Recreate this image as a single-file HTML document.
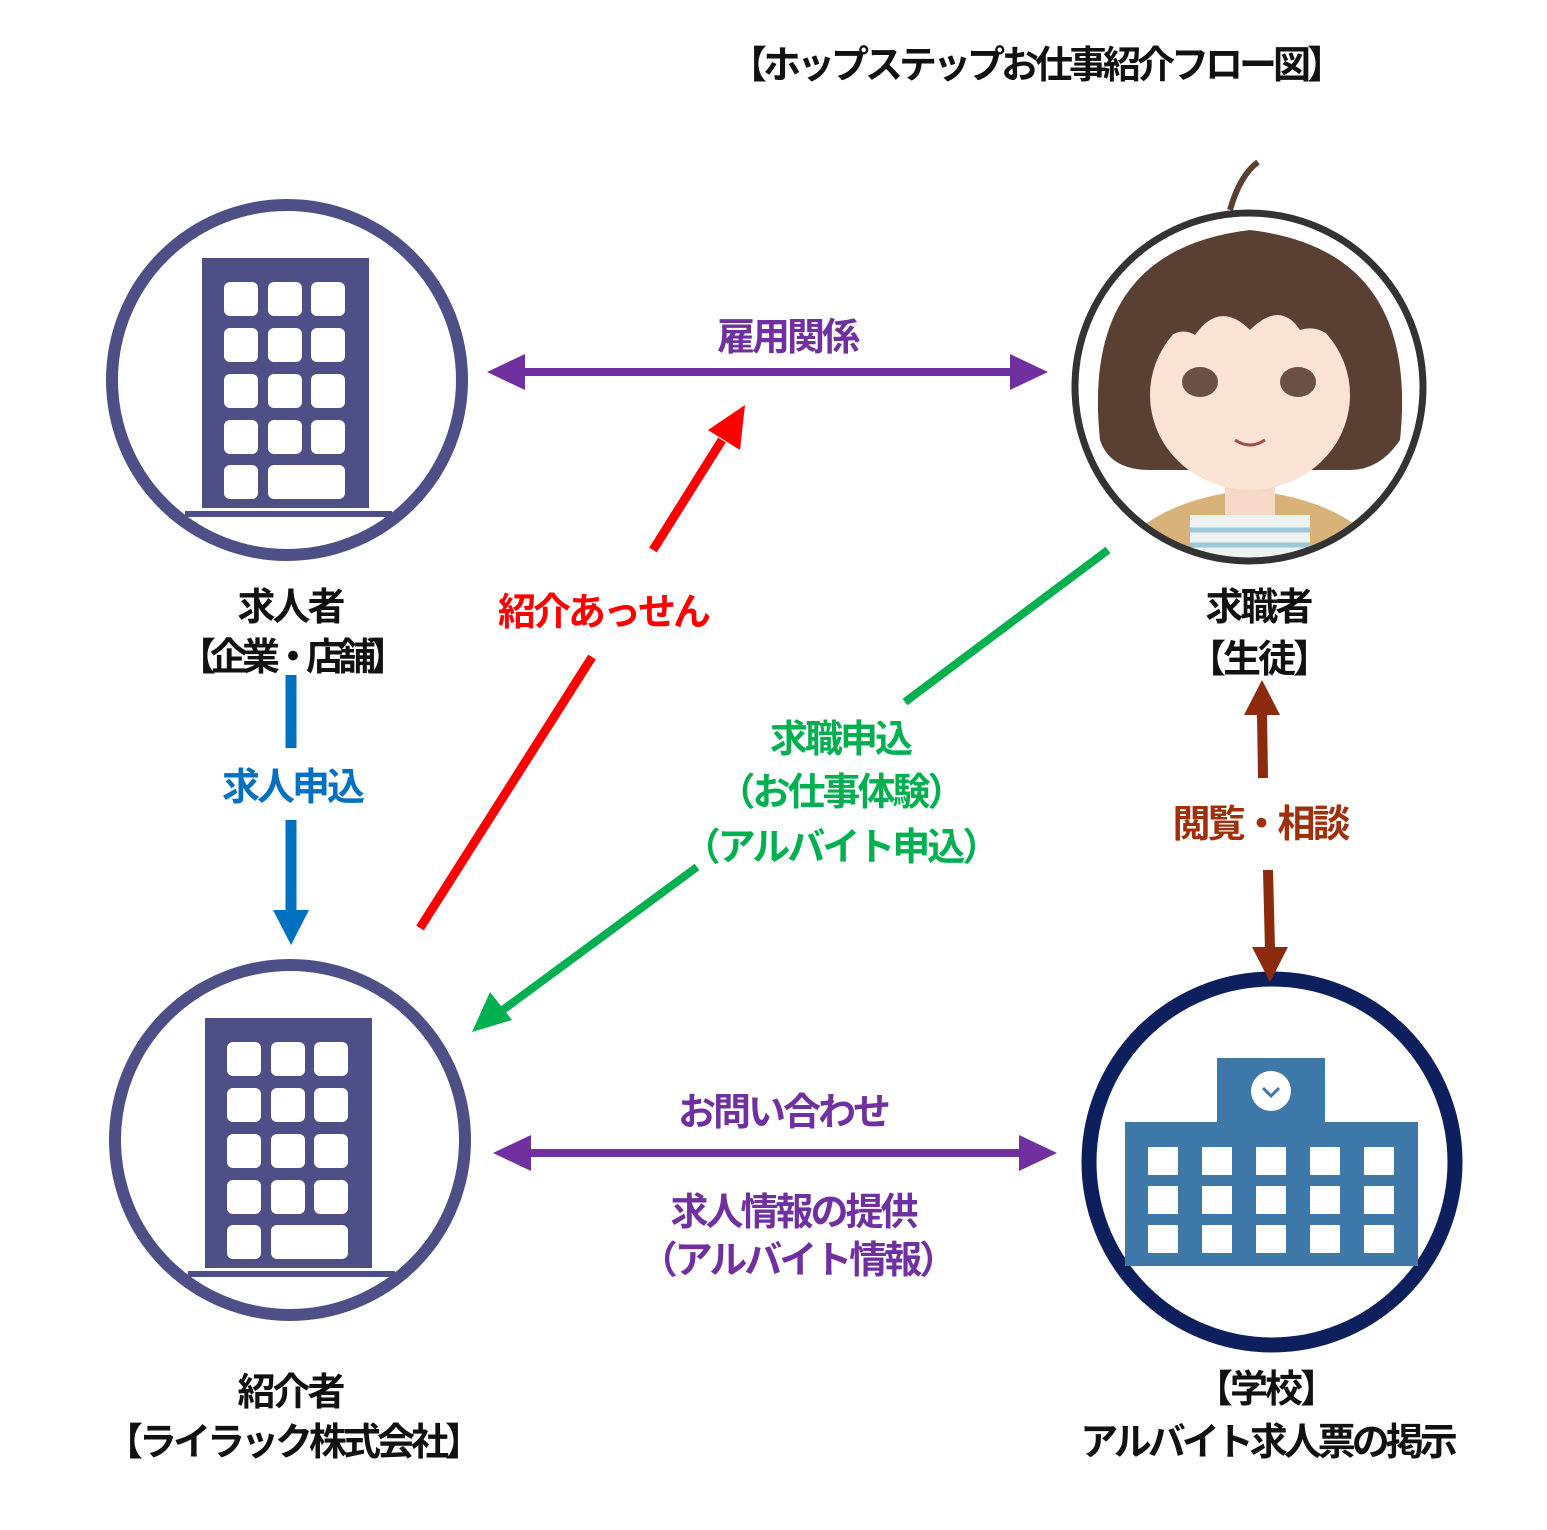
<!DOCTYPE html>
<html><head><meta charset="utf-8"><style>
html,body{margin:0;padding:0;background:#fff}
svg{display:block}
text{font-family:"Liberation Sans","Noto Sans CJK JP",sans-serif;text-anchor:middle;letter-spacing:-3px;font-weight:bold}
</style></head><body>
<svg width="1547" height="1530" viewBox="0 0 1547 1530">
<text x="1035" y="78" font-size="38" fill="#111" style="letter-spacing:-4px">【ホップステップお仕事紹介フロー図】</text>

<g>
<circle cx="287" cy="380" r="175" fill="none" stroke="#4d4f86" stroke-width="12"/>
<rect x="202" y="258" width="167" height="250" fill="#4d4f86"/>
<line x1="185" y1="514" x2="392" y2="514" stroke="#4d4f86" stroke-width="6"/>
</g>
<g fill="#fff">
<rect x="224" y="282" width="34" height="34" rx="6"/><rect x="268" y="282" width="34" height="34" rx="6"/><rect x="311" y="282" width="34" height="34" rx="6"/>
<rect x="224" y="328" width="34" height="34" rx="6"/><rect x="268" y="328" width="34" height="34" rx="6"/><rect x="311" y="328" width="34" height="34" rx="6"/>
<rect x="224" y="374" width="34" height="34" rx="6"/><rect x="268" y="374" width="34" height="34" rx="6"/><rect x="311" y="374" width="34" height="34" rx="6"/>
<rect x="224" y="420" width="34" height="34" rx="6"/><rect x="268" y="420" width="34" height="34" rx="6"/><rect x="311" y="420" width="34" height="34" rx="6"/>
<rect x="224" y="465" width="34" height="34" rx="6"/><rect x="268" y="465" width="77" height="34" rx="6"/>
</g>
<g transform="translate(3,760)">
<circle cx="287" cy="380" r="175" fill="none" stroke="#4d4f86" stroke-width="12"/>
<rect x="202" y="258" width="167" height="250" fill="#4d4f86"/>
<line x1="185" y1="514" x2="392" y2="514" stroke="#4d4f86" stroke-width="6"/>
<g fill="#fff">
<rect x="224" y="282" width="34" height="34" rx="6"/><rect x="268" y="282" width="34" height="34" rx="6"/><rect x="311" y="282" width="34" height="34" rx="6"/>
<rect x="224" y="328" width="34" height="34" rx="6"/><rect x="268" y="328" width="34" height="34" rx="6"/><rect x="311" y="328" width="34" height="34" rx="6"/>
<rect x="224" y="374" width="34" height="34" rx="6"/><rect x="268" y="374" width="34" height="34" rx="6"/><rect x="311" y="374" width="34" height="34" rx="6"/>
<rect x="224" y="420" width="34" height="34" rx="6"/><rect x="268" y="420" width="34" height="34" rx="6"/><rect x="311" y="420" width="34" height="34" rx="6"/>
<rect x="224" y="465" width="34" height="34" rx="6"/><rect x="268" y="465" width="77" height="34" rx="6"/>
</g></g>

<clipPath id="cg"><circle cx="1249" cy="387" r="172"/></clipPath>
<g clip-path="url(#cg)">
<rect x="1070" y="210" width="360" height="360" fill="#fff"/>
<path d="M1110,560 Q1150,500 1249,490 Q1350,500 1390,560 Z" fill="#d9b27a"/>
<rect x="1190" y="515" width="120" height="50" fill="#eef2f0"/>
<path d="M1190,530 H1310 M1190,545 H1310" stroke="#9cc8da" stroke-width="5"/>
<rect x="1225" y="460" width="50" height="55" fill="#f6d9c9"/>
<path d="M1100,440 Q1080,250 1250,230 Q1420,250 1400,440 Q1380,470 1350,470 L1150,470 Q1110,470 1100,440Z" fill="#5a3f33"/>
<ellipse cx="1250" cy="395" rx="100" ry="95" fill="#fbe3d6"/>
<path d="M1145,370 Q1150,260 1250,250 Q1350,260 1355,370 Q1330,320 1300,330 Q1280,300 1250,330 Q1220,300 1195,335 Q1170,320 1145,370Z" fill="#5a3f33"/>
<ellipse cx="1200" cy="382" rx="18" ry="15" fill="#6b5048"/>
<ellipse cx="1298" cy="382" rx="18" ry="15" fill="#6b5048"/>
<path d="M1235,440 Q1250,450 1265,440" stroke="#a05040" stroke-width="3" fill="none"/>
</g>
<path d="M1230,210 Q1240,175 1258,162" stroke="#5a3f33" stroke-width="6" fill="none"/>
<circle cx="1249" cy="387" r="174" fill="none" stroke="#333" stroke-width="7"/>

<circle cx="1272" cy="1162" r="183" fill="none" stroke="#0d1f5c" stroke-width="15"/>
<rect x="1217" y="1058" width="108" height="68" fill="#3d78a8"/>
<rect x="1125" y="1122" width="293" height="144" fill="#3d78a8"/>
<circle cx="1271" cy="1091" r="20" fill="#fff"/>
<path d="M1263,1088 L1271,1096 L1279,1088" stroke="#3d78a8" stroke-width="3" fill="none"/>
<g fill="#fff">
<rect x="1148" y="1147" width="30" height="28"/><rect x="1202" y="1147" width="30" height="28"/><rect x="1256" y="1147" width="30" height="28"/><rect x="1310" y="1147" width="30" height="28"/><rect x="1364" y="1147" width="30" height="28"/>
<rect x="1148" y="1186" width="30" height="28"/><rect x="1202" y="1186" width="30" height="28"/><rect x="1256" y="1186" width="30" height="28"/><rect x="1310" y="1186" width="30" height="28"/><rect x="1364" y="1186" width="30" height="28"/>
<rect x="1148" y="1225" width="30" height="28"/><rect x="1202" y="1225" width="30" height="28"/><rect x="1256" y="1225" width="30" height="28"/><rect x="1310" y="1225" width="30" height="28"/><rect x="1364" y="1225" width="30" height="28"/>
</g>

<line x1="510" y1="372" x2="1025" y2="372" stroke="#7030a0" stroke-width="8"/>
<path d="M487,372 L525,354 L525,390Z M1048,372 L1010,354 L1010,390Z" fill="#7030a0"/>
<line x1="516" y1="1153" x2="1034" y2="1153" stroke="#7030a0" stroke-width="8"/>
<path d="M493,1153 L531,1135 L531,1171Z M1057,1153 L1019,1135 L1019,1171Z" fill="#7030a0"/>

<line x1="420" y1="928" x2="592" y2="657" stroke="#ff0000" stroke-width="9"/>
<line x1="653" y1="550" x2="722" y2="440" stroke="#ff0000" stroke-width="9"/>
<path d="M745,405 L740,450 L708,430Z" fill="#ff0000"/>

<line x1="1108" y1="550" x2="905" y2="702" stroke="#00b050" stroke-width="8"/>
<line x1="697" y1="867" x2="500" y2="1012" stroke="#00b050" stroke-width="8"/>
<path d="M472,1032 L490,992 L512,1020Z" fill="#00b050"/>

<line x1="291" y1="675" x2="291" y2="748" stroke="#0070c0" stroke-width="11"/>
<line x1="291" y1="820" x2="291" y2="915" stroke="#0070c0" stroke-width="11"/>
<path d="M291,945 L273,910 L309,910Z" fill="#0070c0"/>

<line x1="1263" y1="778" x2="1262" y2="712" stroke="#8b2a0c" stroke-width="10"/>
<path d="M1262,680 L1244,715 L1280,715Z" fill="#8b2a0c"/>
<line x1="1268" y1="870" x2="1270" y2="950" stroke="#8b2a0c" stroke-width="10"/>
<path d="M1270,982 L1252,947 L1288,947Z" fill="#8b2a0c"/>

<g font-size="38">
<text x="787" y="350" fill="#7030a0">雇用関係</text>
<text x="603" y="625" fill="#ff0000">紹介あっせん</text>
<text x="840" y="752" fill="#00b050">求職申込</text>
<text x="840" y="805" fill="#00b050">（お仕事体験）</text>
<text x="840" y="860" fill="#00b050">（アルバイト申込）</text>
<text x="292" y="800" fill="#0070c0">求人申込</text>
<text x="1260" y="837" fill="#a0300c">閲覧・相談</text>
<text x="783" y="1125" fill="#7030a0">お問い合わせ</text>
<text x="793" y="1225" fill="#7030a0">求人情報の提供</text>
<text x="797" y="1273" fill="#7030a0">（アルバイト情報）</text>
<text x="290" y="620" fill="#111">求人者</text>
<text x="290" y="670" fill="#111" style="letter-spacing:-6px">【企業・店舗】</text>
<text x="1258" y="620" fill="#111">求職者</text>
<text x="1258" y="672" fill="#111">【生徒】</text>
<text x="290" y="1405" fill="#111">紹介者</text>
<text x="292" y="1455" fill="#111" style="letter-spacing:-4px">【ライラック株式会社】</text>
<text x="1265" y="1402" fill="#111">【学校】</text>
<text x="1267" y="1455" fill="#111" style="letter-spacing:-4px">アルバイト求人票の掲示</text>
</g>
</svg>
</body></html>
